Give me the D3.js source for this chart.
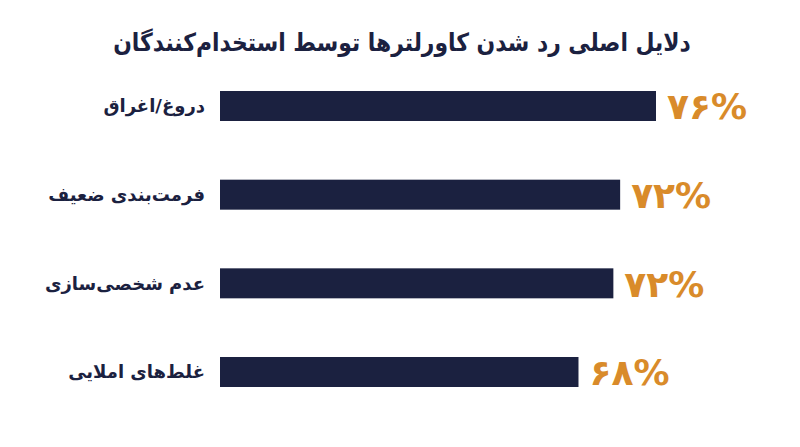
<!DOCTYPE html>
<html lang="fa">
<head>
<meta charset="utf-8">
<script src="https://cdn.jsdelivr.net/npm/d3@7"></script>
<style>
  html, body { margin: 0; padding: 0; background: #ffffff; }
  svg { display: block; }
</style>
</head>
<body>
<svg id="chart" width="800" height="447"></svg>
<script>
const title = "دلایل اصلی رد شدن کاورلترها توسط استخدام‌کنندگان";
const categories = ["دروغ/اغراق", "فرمت‌بندی ضعیف", "عدم شخصی‌سازی", "غلط‌های املایی"];
const values = [76, 72.3, 71.6, 68];
const valueLabels = ["۷۶%", "۷۲%", "۷۲%", "۶۸%"];

const svg = d3.select("#chart");
const W = 800, H = 447;
const navy = "#1b2140";
const orange = "#d98b2a";
const font = "'DejaVu Sans', sans-serif";

svg.append("rect").attr("width", W).attr("height", H).attr("fill", "#ffffff");

svg.append("g")
  .attr("transform", "translate(402,51) scale(0.875,1)")
  .append("text")
  .attr("x", 0).attr("y", 0)
  .attr("text-anchor", "middle")
  .attr("direction", "rtl")
  .attr("font-family", font)
  .attr("font-weight", "bold")
  .attr("font-size", 25)
  .attr("fill", navy)
  .text(title);

const x = d3.scaleLinear().domain([31, 76]).range([220, 656]);
const y = d3.scalePoint().domain(categories).range([106, 372]);
const barH = 30;

const rows = svg.append("g").selectAll("g")
  .data(categories.map((c, i) => ({ c, v: values[i], l: valueLabels[i] })))
  .join("g");

rows.append("rect")
  .attr("x", x(31))
  .attr("y", d => y(d.c) - barH / 2)
  .attr("width", d => x(d.v) - x(31))
  .attr("height", barH)
  .attr("fill", navy);

rows.append("text")
  .attr("x", 205)
  .attr("y", d => y(d.c))
  .attr("dy", "0.35em")
  .attr("text-anchor", "start")
  .attr("direction", "rtl")
  .attr("font-family", font)
  .attr("font-weight", "bold")
  .attr("font-size", 18)
  .attr("fill", navy)
  .text(d => d.c);

rows.append("text")
  .attr("x", d => x(d.v) + 11)
  .attr("y", d => y(d.c))
  .attr("dy", "0.37em")
  .attr("text-anchor", "start")
  .attr("font-family", font)
  .attr("font-weight", "bold")
  .attr("font-size", 36)
  .attr("fill", orange)
  .text(d => d.l);
</script>
</body>
</html>
